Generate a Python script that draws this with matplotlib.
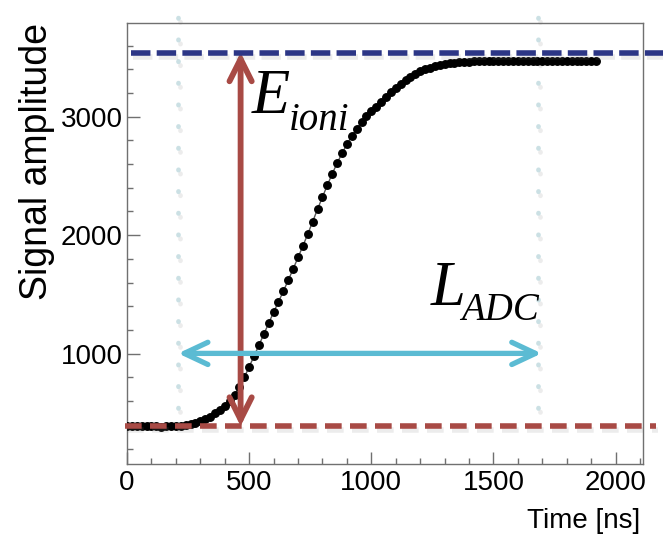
import matplotlib
matplotlib.use("Agg")
import matplotlib.pyplot as plt
import matplotlib.patheffects as pe
from matplotlib.ticker import MultipleLocator

# ---------------- data ----------------
times = list(range(0, 1940, 20))  # ns, sampling every 20 ns
amplitude = [
    392, 390, 388, 387, 389, 390, 388, 386, 388, 390,
    391, 394, 399, 406, 416, 430, 448, 470, 496, 526,
    560, 598, 648, 718, 800, 890, 980, 1072, 1165, 1258,
    1350, 1438, 1528, 1620, 1715, 1812, 1910, 2010, 2115, 2220,
    2322, 2422, 2518, 2608, 2690, 2766, 2836, 2898, 2954, 3002,
    3045, 3085, 3124, 3163, 3205, 3243, 3278, 3307, 3334, 3360,
    3381, 3399, 3414, 3427, 3437, 3445, 3451, 3456, 3460, 3463,
    3465, 3466, 3467, 3468, 3468, 3469, 3469, 3470, 3470, 3470,
    3470, 3471, 3470, 3470, 3471, 3470, 3470, 3469, 3469, 3470,
    3469, 3469, 3468, 3468, 3468, 3467, 3467,
]
baseline_level = 390
top_level = 3541
eioni_time = 465
ladc_level = 1003
ladc_start, ladc_end = 209, 1697
window_lines = [209, 1681]
xticks = [0, 500, 1000, 1500, 2000]
yticks = [1000, 2000, 3000]

# ---------------- style ----------------
plt.rcParams['font.family'] = ['Liberation Sans', 'DejaVu Sans']
plt.rcParams['lines.scale_dashes'] = False

W, H = 663, 536
fig = plt.figure(figsize=(W / 100, H / 100), dpi=100)
ax = fig.add_axes([127 / W, 1 - 464 / H, (643 - 127) / W, (464 - 23) / H])

ax.set_xlim(0, 2112)
ax.set_ylim(70, 3790)

frame_col = '#707070'
for s in ax.spines.values():
    s.set_color(frame_col)
    s.set_linewidth(1.0)

ax.set_xticks(xticks)
ax.set_yticks(yticks)
ax.xaxis.set_minor_locator(MultipleLocator(100))
ax.yaxis.set_minor_locator(MultipleLocator(200))
ax.tick_params(which='both', direction='in', color=frame_col, width=1.0,
               top=False, right=False)
ax.tick_params(which='major', length=9)
ax.tick_params(which='minor', length=4.5)
ax.tick_params(axis='x', which='major', labelsize=20, pad=4)
ax.tick_params(axis='y', which='major', labelsize=20, pad=3)

fig.text(37 / W, 1 - 161 / H, 'Signal amplitude', rotation=90,
         ha='center', va='center', fontsize=27)
fig.text(640 / W, 1 - 528 / H, 'Time [ns]', ha='right', va='baseline',
         fontsize=20)

shadow = [pe.SimpleLineShadow(offset=(1.5, -3), shadow_color='gray', alpha=0.15),
          pe.Normal()]

# faint dotted vertical window lines
for xv in window_lines:
    ax.plot([xv, xv], [540, 3910], color='#cbe0e4', lw=3.4,
            linestyle=(0, (0.3, 15.3)), dash_capstyle='round',
            clip_on=False, zorder=1, path_effects=shadow)

# data
ax.plot(times, amplitude, color='#555555', lw=1.0, zorder=3)
ax.plot(times, amplitude, linestyle='none', marker='o', markersize=5.4,
        color='black', zorder=4)

# E_ioni arrow
ax.annotate('', xy=(eioni_time, top_level), xytext=(eioni_time, baseline_level),
            arrowprops=dict(arrowstyle='<->,head_length=0.8,head_width=0.4',
                            color='#a84a45', lw=4.2, shrinkA=0, shrinkB=0,
                            mutation_scale=20, joinstyle='miter'),
            zorder=5)
# L_ADC arrow
ax.annotate('', xy=(ladc_end, ladc_level), xytext=(ladc_start, ladc_level),
            arrowprops=dict(arrowstyle='<->,head_length=0.85,head_width=0.4',
                            color='#5bbbd3', lw=3.8, shrinkA=0, shrinkB=0,
                            mutation_scale=20),
            zorder=6)

# dashed level lines
ax.plot([-8, 2165], [baseline_level, baseline_level], color='#a84a45', lw=4,
        linestyle=(0, (12, 6)), clip_on=False, zorder=7, path_effects=shadow)
ax.plot([16, 2260], [top_level, top_level], color='#2c3686', lw=4,
        linestyle=(0, (14, 4.5)), clip_on=False, zorder=7, path_effects=shadow)

# labels
serif = ['Liberation Serif', 'DejaVu Serif']
fig.text(252 / W, 1 - 113 / H, 'E', family=serif, style='italic',
         fontsize=45, ha='left', va='baseline')
fig.text(289 / W, 1 - 130 / H, 'ioni', family=serif, style='italic',
         fontsize=28, ha='left', va='baseline')
fig.text(431 / W, 1 - 305 / H, 'L', family=serif, style='italic',
         fontsize=45, ha='left', va='baseline')
fig.text(461 / W, 1 - 320 / H, 'ADC', family=serif, style='italic',
         fontsize=28, ha='left', va='baseline')

fig.savefig('out.png', dpi=100)
